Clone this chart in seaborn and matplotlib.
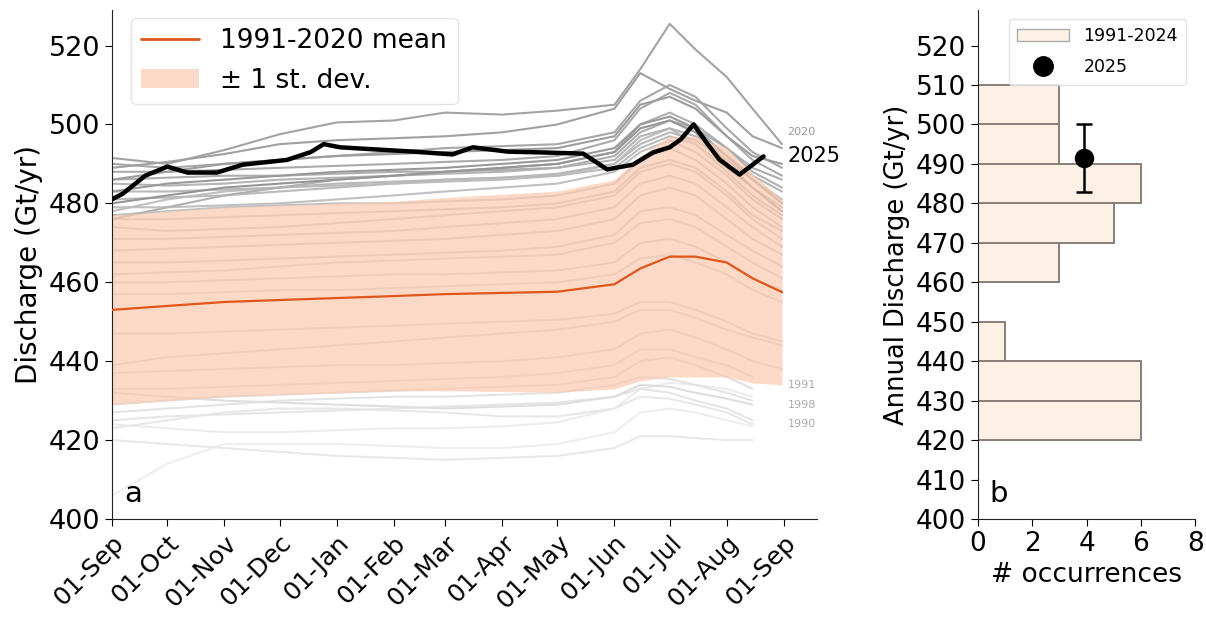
import numpy as np
import pandas as pd
import matplotlib
matplotlib.use("Agg")
import matplotlib.pyplot as plt
import matplotlib.dates as mdates
from matplotlib.lines import Line2D
from matplotlib.patches import Patch
import seaborn as sns

# ---- data -------------------------------------------------------------
node_dates = ["2024-09-01", "2024-10-01", "2024-11-01", "2024-12-01",
              "2025-01-01", "2025-02-01", "2025-03-01", "2025-04-01",
              "2025-05-01", "2025-06-01", "2025-06-15", "2025-07-01",
              "2025-07-15", "2025-08-01", "2025-08-15", "2025-08-31"]

nan = np.nan
year_series = {
    1990: [406, 414, 419, 419, 419, 418.5, 418, 418, 419, 422, 427, 428, 427, 425, 423.5, nan],
    1991: [424, 423, 422, 422, 422.5, 423, 423, 423.5, 424.5, 428, 433, 434.5, 434, 433, 431, nan],
    1992: [420, 419, 418, 417, 416, 415.5, 415, 415.5, 416, 418, 421, 421, 420.5, 420, 420, nan],
    1993: [423, 425, 427, 428, 428, 427.5, 427, 426, 426, 428, 431, 430.5, 429, 427, 424, nan],
    1994: [425, 426, 426.5, 427, 427.5, 428, 428.5, 429, 429.5, 431, 433, 432, 430, 428, 425, nan],
    1995: [427, 428, 429, 430, 430.5, 431, 431, 431.5, 432, 434, 436, 435.5, 434, 432, 430, nan],
    1996: [429, 430, 431, 431.5, 432, 432.5, 433, 433.5, 434, 436, 440, 441, 439, 436, 433, nan],
    1997: [433, 433, 433.5, 434, 434.5, 435, 435.5, 436, 437, 439, 443, 443, 441, 439, 436, nan],
    1998: [432, 431, 430, 429.5, 429, 428.5, 428, 428.5, 429, 431, 434, 433.5, 432, 430.5, 429, nan],
    1999: [437, 437.5, 438, 438.5, 439, 439, 439.5, 440, 441, 443, 447, 448, 446, 443, 440, 438],
    2000: [439, 441, 442, 443, 444, 445, 446, 447, 448, 450, 453, 453, 451, 448, 446, 444],
    2001: [447, 447, 447.5, 448, 448.5, 449, 449.5, 450, 450.5, 452, 455, 455, 453, 450, 447, 445],
    2002: [457, 457, 457.5, 458, 458, 458.5, 459, 459.5, 460, 462, 466, 467, 465, 462, 458, 455],
    2003: [460, 460, 460.5, 461, 461.5, 462, 462, 462.5, 463, 465, 470, 471, 469, 465, 461, 458],
    2004: [462, 462.5, 463, 464, 465, 465.5, 466, 466.5, 467, 470, 475, 476, 474, 469, 465, 461],
    2005: [465, 465, 465.5, 466, 466.5, 467, 467.5, 468, 469, 472, 478, 479, 477, 472, 468, 464],
    2006: [468, 468.5, 469, 469.5, 470, 470.5, 471, 472, 473, 476, 482, 484, 482, 476, 471, 467],
    2007: [471, 471, 471.5, 472, 472.5, 473, 474, 475, 476, 479, 485, 487, 485, 479, 474, 469],
    2008: [474, 473, 473.5, 474, 475, 476, 477, 478, 479, 482, 488, 490, 488, 482, 476, 471],
    2009: [476, 476, 476.5, 477, 477.5, 478, 478.5, 479, 480, 483, 489, 491, 489, 483, 477, 473],
    2010: [477, 478, 479, 479.5, 480, 480, 480.5, 481, 482, 485, 491, 494, 491, 485, 479, 474],
    2011: [479, 479, 479.5, 480, 481, 482, 483, 484, 485, 488, 493, 496, 493, 487, 481, 476],
    2012: [478, 481, 483, 484, 484.5, 485, 485.5, 486, 487, 490, 496, 499, 495, 488, 482, 477],
    2013: [481, 481.5, 482, 483, 484, 485, 486, 486.5, 487, 489, 494, 497, 495, 489, 484, 479],
    2014: [483, 483, 483.5, 484, 485, 485.5, 486, 486.5, 487.5, 490, 495, 498, 496, 491, 486, 481],
    2015: [485, 484.5, 485, 486, 486.5, 487, 487.5, 488, 489, 491, 497, 499, 497, 492, 487, 483],
    2016: [476, 479, 482, 484, 486, 487, 488, 489, 490, 493, 500, 503, 500, 494, 488, 484],
    2017: [486, 486.5, 487, 487, 487.5, 488, 488, 488.5, 489, 492, 498, 501, 499, 494, 489, 486],
    2018: [488, 488, 488.5, 489, 489.5, 490, 490.5, 491, 492, 496, 504, 508, 505, 497, 491, 487],
    2019: [490, 489, 490, 491, 492, 493, 494, 494.5, 495, 498, 506, 510, 507, 499, 493, 489],
    2020: [491.5, 490, 493.5, 497.5, 500.5, 501, 503, 502.5, 503.5, 505, 514, 525.5, 519, 512, 504, 495],
    2021: [489, 490.5, 492.5, 495, 496, 496.5, 497, 498, 500, 504, 513, 509, 506, 503, 497, 494],
    2022: [486, 488, 490, 491, 492, 492.5, 493, 493.5, 494, 497, 505, 507, 504, 497, 492, 490],
    2023: [483, 485, 486, 487, 488, 488.5, 489, 490, 491, 494, 500, 502, 499, 492, 486, 480],
    2024: [480, 482, 484, 485, 486, 487, 488, 489, 490, 493, 499, 501, 498, 490, 484, 478],
}

# 1991-2020 climatology
clim_mean = [453, 454, 455, 455.5, 456, 456.5, 457, 457.3, 457.6, 459.5,
             463.5, 466.5, 466.5, 465, 461, 457.5]
clim_std = [24, 24, 24, 24, 24, 24, 24.5, 25, 25.5, 26.5,
            28.5, 30.5, 30.5, 29, 26.5, 23.5]

# current year (2025)
cur_dates = ["2024-09-01", "2024-09-07", "2024-09-19", "2024-10-01",
             "2024-10-12", "2024-10-28", "2024-11-11", "2024-12-05",
             "2024-12-18", "2024-12-25", "2025-01-03", "2025-01-21",
             "2025-02-12", "2025-03-05", "2025-03-16", "2025-04-04",
             "2025-04-23", "2025-05-15", "2025-05-28", "2025-06-11",
             "2025-06-22", "2025-07-01", "2025-07-07", "2025-07-14",
             "2025-07-21", "2025-07-28", "2025-08-08", "2025-08-21"]
cur_values = [481, 482.5, 487, 489.3, 487.8, 487.8, 489.8, 491, 493, 495,
              494.2, 493.7, 493.1, 492.4, 494.2, 493.1, 492.9, 492.6, 488.6,
              489.8, 492.9, 494.2, 496.2, 500, 495.4, 491.1, 487.3, 491.9]

# annual-discharge histogram (1991-2024) and the 2025 estimate
bin_edges = [420, 430, 440, 450, 460, 470, 480, 490, 500, 510]
bin_counts = [6, 6, 1, 0, 3, 5, 6, 3, 3]
annual_2025 = 491.5
annual_2025_low = 483.0
annual_2025_high = 500.0
annual_2025_x = 3.9

tick_dates = pd.date_range("2024-09-01", "2025-09-01", freq="MS")

# ---- figure ------------------------------------------------------------
sns.set_style("ticks")
plt.rcParams["font.family"] = ["DejaVu Sans"]
plt.rcParams.update({
    "text.color": "black", "axes.labelcolor": "black",
    "xtick.color": "black", "ytick.color": "black",
    "axes.edgecolor": "#222222", "xtick.major.size": 5, "ytick.major.size": 5,
})

fig = plt.figure(figsize=(12.06, 6.17), dpi=100)
ax1 = fig.add_axes([0.0929, 0.1588, 0.5845, 0.825])
ax2 = fig.add_axes([0.811, 0.1588, 0.18, 0.825])

nodes = pd.to_datetime(node_dates)
years = list(year_series.keys())
long = pd.DataFrame(
    [(y, d, v) for y in years for d, v in zip(nodes, year_series[y])],
    columns=["year", "date", "discharge"],
).dropna()

shades = plt.get_cmap("Greys")(np.linspace(0.14, 0.5, len(years)))
palette = {y: shades[i] for i, y in enumerate(years)}

sns.lineplot(data=long, x="date", y="discharge", hue="year", palette=palette,
             legend=False, lw=1.5, ax=ax1, zorder=1, estimator=None)

band_color = "#fbcab0"
band_alpha = 0.7
ax1.fill_between(nodes, np.array(clim_mean) - np.array(clim_std),
                 np.array(clim_mean) + np.array(clim_std),
                 color=band_color, alpha=band_alpha, lw=0, zorder=2)

mean_color = "#e0561a"
sns.lineplot(x=nodes, y=clim_mean, color=mean_color, lw=1.6, ax=ax1, zorder=3)
sns.lineplot(x=pd.to_datetime(cur_dates), y=cur_values, color="black", lw=3.2,
             ax=ax1, zorder=4)

# year annotations at the right end of the lines
label_x = pd.Timestamp("2025-09-03")
ax1.text(label_x, 498.0, "2020", fontsize=8, color="#999999", va="center", ha="left")
ax1.text(label_x, 492.0, "2025", fontsize=15, color="black", va="center", ha="left")
ax1.text(label_x, 434.0, "1991", fontsize=8, color="#aaaaaa", va="center", ha="left")
ax1.text(label_x, 429.0, "1998", fontsize=8, color="#aaaaaa", va="center", ha="left")
ax1.text(label_x, 424.0, "1990", fontsize=8, color="#aaaaaa", va="center", ha="left")

ax1.set_xlim(pd.Timestamp("2024-09-01"), pd.Timestamp("2024-09-01") + pd.Timedelta(days=383))
ax1.set_ylim(400, 529)
ax1.set_yticks(np.arange(400, 521, 20))
ax1.set_xticks(tick_dates)
ax1.xaxis.set_major_formatter(mdates.DateFormatter("%d-%b"))
ax1.tick_params(axis="y", labelsize=19.5)
ax1.tick_params(axis="x", labelsize=18)
plt.setp(ax1.get_xticklabels(), rotation=45, ha="right", rotation_mode="anchor")
ax1.set_xlabel("")
ax1.set_ylabel("Discharge (Gt/yr)", fontsize=20)
ax1.text(0.018, 0.022, "a", transform=ax1.transAxes, fontsize=21, va="bottom")

leg1 = ax1.legend(
    handles=[Line2D([], [], color=mean_color, lw=2),
             Patch(facecolor=band_color, alpha=band_alpha, lw=0)],
    labels=["1991-2020 mean", "± 1 st. dev."],
    loc="upper left", fontsize=19, frameon=True, handlelength=2.2,
    borderaxespad=0.3, bbox_to_anchor=(0.015, 1.0),
)
leg1.get_frame().set_edgecolor("#dddddd")

# ---- histogram panel ---------------------------------------------------
hist_fill = "#fdf1e6"
hist_edge = "#8a7f78"
centers = [(a + b) / 2 for a, b in zip(bin_edges[:-1], bin_edges[1:])]
sns.histplot(y=centers, weights=bin_counts, bins=bin_edges, ax=ax2,
             color=hist_fill, edgecolor=hist_edge, linewidth=1.4, alpha=1)
ax2.errorbar(annual_2025_x, annual_2025,
             yerr=[[annual_2025 - annual_2025_low], [annual_2025_high - annual_2025]],
             fmt="o", color="black", ms=13, capsize=6, elinewidth=1.8, capthick=1.8)

ax2.set_xlim(0, 8)
ax2.set_ylim(400, 529)
ax2.set_xticks([0, 2, 4, 6, 8])
ax2.set_yticks(np.arange(400, 521, 10))
ax2.tick_params(labelsize=19)
ax2.set_xlabel("# occurrences", fontsize=19)
ax2.set_ylabel("Annual Discharge (Gt/yr)", fontsize=18.5)
ax2.text(0.05, 0.022, "b", transform=ax2.transAxes, fontsize=21, va="bottom")

leg2 = ax2.legend(
    handles=[Patch(facecolor=hist_fill, edgecolor="#aaaaaa", lw=1),
             Line2D([], [], marker="o", color="black", ls="none", ms=14)],
    labels=["1991-2024", "2025"],
    loc="upper right", fontsize=12.5, frameon=True, borderaxespad=0.5,
    handlelength=3.0, labelspacing=0.75, borderpad=0.5,
    bbox_to_anchor=(1.0, 1.0),
)
leg2.get_frame().set_edgecolor("#dddddd")

sns.despine(fig=fig)
fig.savefig("out.png", dpi=100)
